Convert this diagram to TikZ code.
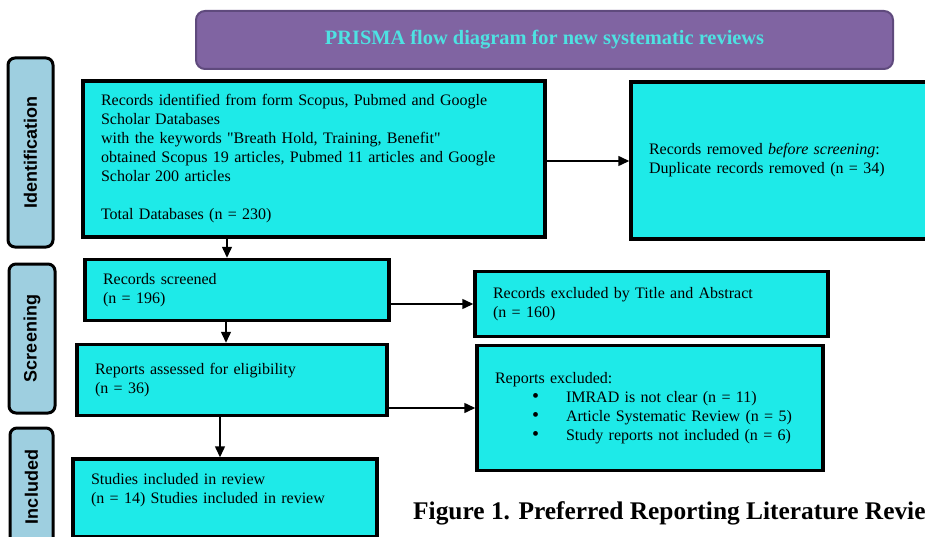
\documentclass[tikz,border=0pt]{standalone}
\usepackage{fontspec}
\setmainfont{Liberation Serif}
\newfontfamily\stagefont{Liberation Sans}
\newfontfamily\quotefont{Liberation Serif}
\usetikzlibrary{arrows.meta}
\definecolor{boxcyan}{HTML}{1EEAE8}
\definecolor{stageblue}{HTML}{9ECFE0}
\definecolor{titlepurple}{HTML}{8064A2}
\definecolor{titleedge}{HTML}{5F4A7D}
\definecolor{titletext}{HTML}{4EE2E2}
\newcommand{\dq}{{\quotefont"}}
\newcommand{\prbullet}[1]{\hspace*{37pt}\makebox[34pt][l]{\raisebox{-0.5pt}{\fontsize{20}{19}\selectfont\textbullet}}#1}

\begin{document}
\begin{tikzpicture}[x=1pt,y=-1pt,>={Triangle[length=11pt,width=10pt]},
	flowbox/.style={draw=black,line width=3.5pt,fill=boxcyan,align=left,inner xsep=18pt,inner ysep=0pt,font=\fontsize{16}{19}\selectfont},
	stagebox/.style={draw=black,line width=3pt,fill=stageblue,rounded corners=7pt,rotate=90,inner sep=0pt,font=\stagefont\bfseries\fontsize{18}{20}\selectfont},
	link/.style={->,line width=1.5pt}]
	\clip (0,0) rectangle (925,537);
	\useasboundingbox (0,0) rectangle (925,537);
	% title bar
	\node[draw=titleedge,line width=2pt,fill=titlepurple,rounded corners=9pt,minimum width=697pt,minimum height=58pt,text=titletext,font=\bfseries\fontsize{20.4}{24}\selectfont] (title) at (544.5,40) {PRISMA flow diagram for new systematic reviews};
	% stages
	\node[stagebox,minimum width=189pt,minimum height=45pt] (ident) at (30.5,152.5) {Identification};
	\node[stagebox,minimum width=149pt,minimum height=46pt] (screen) at (32,338.5) {Screening};
	\node[stagebox,minimum width=118pt,minimum height=43pt] (incl) at (31.5,487) {Included};
	% boxes
	\node[flowbox,text width=426pt,minimum height=156pt] (records) at (314,159) {Records identified from form Scopus, Pubmed and Google\\Scholar Databases\\with the keywords \dq Breath Hold, Training, Benefit\dq\\obtained Scopus 19 articles, Pubmed 11 articles and Google\\Scholar 200 articles\\[19pt]Total Databases (n = 230)};
	\node[flowbox,text width=264pt,minimum height=157pt] (removed) at (781,160.5) {Records removed \textit{before screening}:\\Duplicate records removed (n = 34)};
	\node[flowbox,text width=268pt,minimum height=61pt] (screened) at (237,290) {Records screened\\(n = 196)};
	\node[flowbox,text width=317pt,minimum height=65pt] (excluded) at (651.5,304) {Records excluded by Title and Abstract\\(n = 160)};
	\node[flowbox,text width=274pt,minimum height=71pt] (assessed) at (232,380) {Reports assessed for eligibility\\(n = 36)};
	\node[flowbox,text width=310pt,minimum height=125pt] (rexcluded) at (650,408) {Reports excluded:\\\prbullet{IMRAD is not clear (n = 11)}\\\prbullet{Article Systematic Review (n = 5)}\\\prbullet{Study reports not included (n = 6)}};
	\node[flowbox,text width=268pt,minimum height=78pt] (included) at (225,498) {Studies included in review\\(n = 14) Studies included in review\\\mbox{}};
	\node[anchor=base west,inner sep=0pt,font=\bfseries\fontsize{25.4}{28}\selectfont] (caption) at (413,519) {Figure 1. Preferred Reporting Literature Review};
	% arrows
	\path (227,0) coordinate (d1) (226,0) coordinate (d2) (220,0) coordinate (d3);
	\draw[link] (records.south -| d1) -- (screened.north -| d1);
	\draw[link] (screened.south -| d2) -- (assessed.north -| d2);
	\draw[link] (assessed.south -| d3) -- (included.north -| d3);
	\draw[link] ([yshift=-2pt]records.east) -- ([yshift=-2pt]records.east -| removed.west);
	\draw[link] (screened.east |- excluded.west) -- (excluded.west);
	\draw[link] (assessed.east |- rexcluded.west) -- (rexcluded.west);
\end{tikzpicture}
\end{document}
